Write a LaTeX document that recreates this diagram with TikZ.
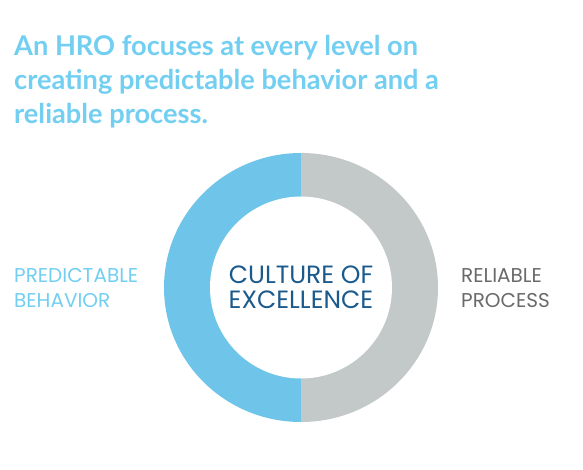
\documentclass[tikz,border=0pt]{standalone}
\usepackage{fontspec}
\setmainfont{Poppins}
\newfontfamily\titlefont{Lato}
\definecolor{skyblue}{HTML}{6EC5E9}
\definecolor{titleblue}{HTML}{72CFF2}
\definecolor{ringgrey}{HTML}{C3C8C8}
\definecolor{darkblue}{HTML}{1B5A8C}
\definecolor{textgrey}{HTML}{6A6A6A}
\begin{document}
\begin{tikzpicture}[x=1pt,y=-1pt,
  titletext/.style={anchor=base west,inner sep=0pt,text=titleblue,font=\titlefont\fontsize{27.2}{28}\selectfont\bfseries},
  sidelabel/.style={anchor=west,inner sep=0pt,align=left,font=\fontsize{20}{25}\selectfont},
  centerlabel/.style={anchor=center,inner sep=0pt,align=center,text=darkblue,font=\fontsize{25}{25}\selectfont}]
\useasboundingbox (0,0) rectangle (583,470);
\fill[white] (0,0) rectangle (583,470);
\coordinate (c) at (301,287.5);
\fill[skyblue] (c) ++(0,-134.5) arc[start angle=270,end angle=90,x radius=137,y radius=134.5] -- cycle;
\fill[ringgrey] (c) ++(0,-134.5) arc[start angle=270,end angle=450,x radius=137,y radius=134.5] -- cycle;
\fill[white] (c) circle[radius=91];
\node[titletext] (t1) at (14,56) {An HRO focuses at every level on};
\node[titletext] (t2) at (14,90) {creating predictable behavior and a};
\node[titletext] (t3) at (14,124) {reliable process.};
\node[sidelabel,text=titleblue] (pb) at (14,288) {PREDICTABLE\\BEHAVIOR};
\node[sidelabel,text=textgrey] (rp) at (461,288) {RELIABLE\\PROCESS};
\node[centerlabel] (ce) at (c) {CULTURE OF\\EXCELLENCE};
\end{tikzpicture}
\end{document}
